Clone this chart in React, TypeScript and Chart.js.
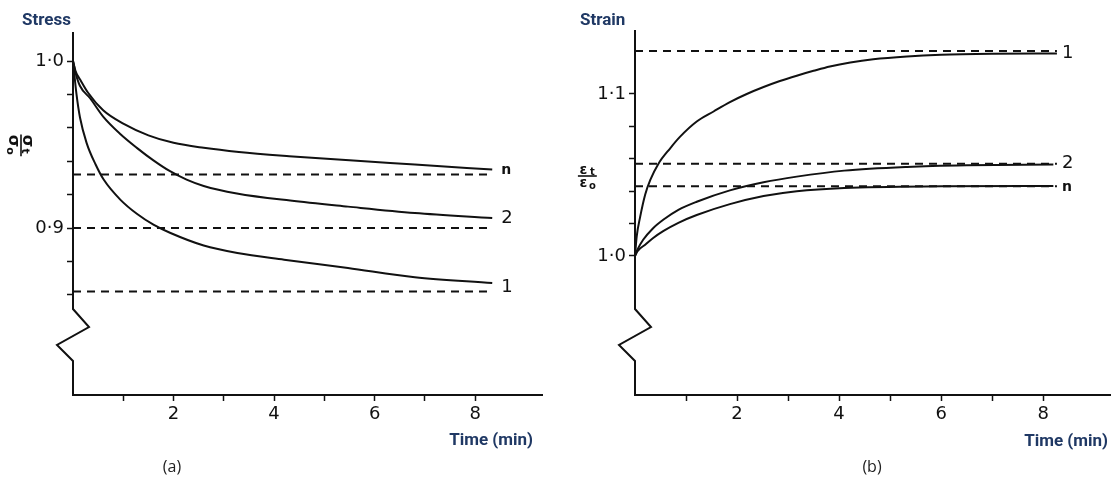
import React, { useEffect, useRef } from "react";
import { Chart, registerables } from "chart.js";
Chart.register(...registerables);

// ---------- Data: (a) Stress relaxation ----------
const stressTimeN = [0, 0.05, 0.15, 0.3, 0.6, 1.0, 1.5, 2.0, 2.6, 3.3, 4.3, 5.5, 6.8, 8.34];
const stressN = [1.0, 0.994, 0.9885, 0.981, 0.9705, 0.9625, 0.9555, 0.951, 0.948, 0.9455, 0.943, 0.9405, 0.938, 0.935];
const stressTime2 = [0, 0.05, 0.14, 0.34, 0.6, 0.94, 1.27, 1.6, 1.93, 2.26, 2.6, 3.26, 4.32, 5.47, 6.8, 8.34];
const stress2 = [1.0, 0.993, 0.985, 0.9777, 0.9667, 0.9563, 0.948, 0.9405, 0.934, 0.929, 0.9252, 0.9207, 0.9164, 0.9128, 0.909, 0.906];
const stressTime1 = [0, 0.07, 0.14, 0.27, 0.45, 0.61, 0.94, 1.27, 1.6, 1.94, 2.6, 3.27, 4.2, 5.47, 6.8, 8.34];
const stress1 = [1.0, 0.98, 0.966, 0.951, 0.938, 0.929, 0.917, 0.9085, 0.902, 0.897, 0.8895, 0.885, 0.881, 0.876, 0.8705, 0.867];
const stressAsymptotes = [0.932, 0.9, 0.862];
const stressCurveLabels = ["n", "2", "1"];
const stressYTicks = [0.86, 0.88, 0.9, 0.92, 0.94, 0.96, 0.98, 1.0];

// ---------- Data: (b) Creep strain ----------
const strainTime1 = [0, 0.033, 0.1, 0.2, 0.3, 0.46, 0.69, 0.88, 1.21, 1.54, 1.86, 2.19, 2.52, 2.84, 3.17, 3.5, 3.82, 4.22, 4.67, 5.33, 6.0, 7.0, 8.27];
const strain1 = [1.0, 1.012, 1.024, 1.038, 1.047, 1.057, 1.0665, 1.0735, 1.083, 1.0892, 1.095, 1.1, 1.1043, 1.108, 1.1113, 1.1143, 1.117, 1.1195, 1.1215, 1.1232, 1.1242, 1.1248, 1.125];
const strainTime2 = [0, 0.05, 0.16, 0.35, 0.56, 0.85, 1.21, 1.86, 2.52, 3.17, 4.1, 5.33, 6.5, 8.2];
const strain2 = [1.0, 1.004, 1.01, 1.017, 1.0225, 1.0285, 1.0335, 1.0405, 1.0455, 1.049, 1.0527, 1.055, 1.056, 1.0565];
const strainTimeN = [0, 0.05, 0.2, 0.35, 0.56, 0.85, 1.21, 1.86, 2.52, 3.17, 4.1, 6.0, 8.2];
const strainN = [1.0, 1.003, 1.007, 1.011, 1.0155, 1.0205, 1.0253, 1.032, 1.037, 1.04, 1.042, 1.043, 1.0432];
const strainAsymptotes = [1.1265, 1.057, 1.043];
const strainCurveLabels = ["1", "2", "n"];
const strainYTicks = [1.0, 1.02, 1.04, 1.06, 1.08, 1.1];

const timeTicks = [1, 2, 3, 4, 5, 6, 7, 8];

const INK = "#111";
const NAVY = "#1f3864";

const pts = (t: number[], v: number[]) => t.map((x, i) => ({ x, y: v[i] }));

const decorPlugin = {
  id: "decor",
  afterDraw(chart: any, _args: any, opts: any) {
    const { ctx, chartArea } = chart;
    const { left, top, bottom } = chartArea;
    const xs = chart.scales.x;
    const ys = chart.scales.y;
    ctx.save();
    // y axis with break
    ctx.strokeStyle = INK;
    ctx.lineWidth = 2;
    ctx.lineJoin = "miter";
    ctx.beginPath();
    ctx.moveTo(left, top);
    ctx.lineTo(left, bottom - 86);
    ctx.lineTo(left + 16, bottom - 68);
    ctx.lineTo(left - 16, bottom - 50);
    ctx.lineTo(left, bottom - 34);
    ctx.lineTo(left, bottom + 1);
    ctx.stroke();

    // curve labels
    ctx.fillStyle = INK;
    ctx.textBaseline = "middle";
    ctx.textAlign = "left";
    (opts.curveLabels || []).forEach((l: any) => {
      ctx.font = l.font;
      ctx.fillText(l.text, xs.getPixelForValue(l.x), ys.getPixelForValue(l.y) + (l.dy || 0));
    });

    // free texts
    (opts.texts || []).forEach((t: any) => {
      ctx.font = t.font;
      ctx.fillStyle = t.color;
      ctx.textAlign = t.align;
      ctx.textBaseline = "alphabetic";
      ctx.fillText(t.text, t.x, t.y);
    });

    // fraction label
    const f = opts.frac;
    if (f) {
      ctx.translate(f.x, f.y);
      if (f.rotate) ctx.rotate(Math.PI / 2);
      ctx.fillStyle = INK;
      ctx.strokeStyle = INK;
      ctx.textAlign = "center";
      ctx.textBaseline = "alphabetic";
      const s = f.size;
      const sub = Math.round(s * 0.68);
      ctx.font = `bold ${s}px 'DejaVu Sans'`;
      ctx.fillText(f.sym, -s * 0.25, -2);
      ctx.fillText(f.sym, -s * 0.25, s * 0.62 + 2);
      ctx.font = `bold ${sub}px 'DejaVu Sans'`;
      ctx.fillText(f.top, s * 0.38, -1);
      ctx.fillText(f.bot, s * 0.38, s * 0.62 + 4);
      ctx.lineWidth = 1.6;
      ctx.beginPath();
      ctx.moveTo(-s * 0.65, 0);
      ctx.lineTo(s * 0.7, 0);
      ctx.stroke();
    }
    ctx.restore();
  },
};

function makeChart(canvas: HTMLCanvasElement, spec: any) {
  const solid = spec.curves.map((c: any) => ({
    data: c,
    borderColor: INK,
    borderWidth: 2,
    pointRadius: 0,
    fill: false,
    cubicInterpolationMode: "monotone",
  }));
  const dashed = spec.asymptotes.map((v: number) => ({
    data: [
      { x: 0, y: v },
      { x: spec.dashEnd, y: v },
    ],
    borderColor: INK,
    borderWidth: 2,
    borderDash: [8, 6],
    pointRadius: 0,
    fill: false,
  }));
  return new Chart(canvas, {
    type: "line",
    data: { datasets: [...dashed, ...solid] },
    plugins: [decorPlugin],
    options: {
      responsive: false,
      animation: false,
      events: [],
      layout: { padding: { left: 0, top: spec.padTop, right: spec.padRight, bottom: 0 } },
      plugins: {
        legend: { display: false },
        tooltip: { enabled: false },
        decor: {
          curveLabels: spec.curveLabels,
          texts: spec.texts,
          frac: spec.frac,
        },
      } as any,
      scales: {
        x: {
          type: "linear",
          min: 0,
          max: spec.xMax,
          afterFit: (s: any) => {
            s.height = 89;
          },
          afterBuildTicks: (s: any) => {
            s.ticks = timeTicks.map((v) => ({ value: v }));
          },
          border: { display: true, color: INK, width: 2 },
          grid: { drawOnChartArea: false, drawTicks: true, tickLength: 6, tickWidth: 1.5, color: INK },
          ticks: {
            autoSkip: false,
            maxRotation: 0,
            padding: 3,
            color: INK,
            font: { family: "'DejaVu Sans'", size: 18 },
            callback: (v: any) => (Number(v) % 2 === 0 ? String(v) : ""),
          },
        },
        y: {
          type: "linear",
          min: spec.yMin,
          max: spec.yMax,
          afterFit: (s: any) => {
            s.width = spec.yWidth;
          },
          afterBuildTicks: (s: any) => {
            s.ticks = spec.yTicks.map((v: number) => ({ value: v }));
          },
          border: { display: false },
          grid: { drawOnChartArea: false, drawTicks: true, tickLength: 6, tickWidth: 1.5, color: INK },
          ticks: {
            autoSkip: false,
            padding: 3,
            color: INK,
            font: { family: "'DejaVu Sans'", size: 18 },
            callback: (v: any) => {
              const n = Number(v);
              const hit = spec.yLabels.find((l: any) => Math.abs(l.v - n) < 1e-6);
              return hit ? hit.t : "";
            },
          },
        },
      },
    } as any,
  });
}

export default function App() {
  const leftRef = useRef<HTMLCanvasElement>(null);
  const rightRef = useRef<HTMLCanvasElement>(null);

  useEffect(() => {
    const titleFont = "bold 17px Roboto";
    const capFont = "16px 'Open Sans'";
    const left = makeChart(leftRef.current!, {
      yMin: 0.8,
      yMax: 1.01737,
      yTicks: stressYTicks,
      yLabels: [
        { v: 1.0, t: "1·0" },
        { v: 0.9, t: "0·9" },
      ],
      yWidth: 73,
      xMax: 9.33,
      padTop: 32,
      padRight: 15,
      dashEnd: 8.3,
      curves: [pts(stressTimeN, stressN), pts(stressTime2, stress2), pts(stressTime1, stress1)],
      asymptotes: stressAsymptotes,
      curveLabels: [
        { text: stressCurveLabels[0], x: 8.52, y: stressN[stressN.length - 1], font: "bold 14px 'DejaVu Sans'", dy: 1 },
        { text: stressCurveLabels[1], x: 8.52, y: stress2[stress2.length - 1], font: "18px 'DejaVu Sans'" },
        { text: stressCurveLabels[2], x: 8.52, y: stress1[stress1.length - 1], font: "18px 'DejaVu Sans'", dy: 4 },
      ],
      texts: [
        { text: "Stress", x: 22, y: 25, align: "left", font: titleFont, color: NAVY },
        { text: "Time (min)", x: 533, y: 445, align: "right", font: titleFont, color: NAVY },
        { text: "(a)", x: 172, y: 472, align: "center", font: capFont, color: "#222" },
      ],
      frac: { x: 21, y: 145, rotate: true, sym: "σ", top: "t", bot: "o", size: 16 },
    });
    const right = makeChart(rightRef.current!, {
      yMin: 0.9142,
      yMax: 1.1395,
      yTicks: strainYTicks,
      yLabels: [
        { v: 1.0, t: "1·0" },
        { v: 1.1, t: "1·1" },
      ],
      yWidth: 78,
      xMax: 9.31,
      padTop: 30,
      padRight: 4,
      dashEnd: 8.27,
      curves: [pts(strainTime1, strain1), pts(strainTime2, strain2), pts(strainTimeN, strainN)],
      asymptotes: strainAsymptotes,
      curveLabels: [
        { text: strainCurveLabels[0], x: 8.37, y: strain1[strain1.length - 1], font: "18px 'DejaVu Sans'" },
        { text: strainCurveLabels[1], x: 8.37, y: strain2[strain2.length - 1], font: "18px 'DejaVu Sans'", dy: -1 },
        { text: strainCurveLabels[2], x: 8.37, y: strainN[strainN.length - 1], font: "bold 14px 'DejaVu Sans'", dy: 1 },
      ],
      texts: [
        { text: "Strain", x: 23, y: 25, align: "left", font: titleFont, color: NAVY },
        { text: "Time (min)", x: 551, y: 446, align: "right", font: titleFont, color: NAVY },
        { text: "(b)", x: 315, y: 472, align: "center", font: capFont, color: "#222" },
      ],
      frac: { x: 30, y: 176, rotate: false, sym: "ε", top: "t", bot: "o", size: 14 },
    });
    return () => {
      left.destroy();
      right.destroy();
    };
  }, []);

  return (
    <div style={{ position: "fixed", left: 0, top: 0, width: 1114, height: 484, background: "#fff" }}>
      <canvas ref={leftRef} width={557} height={484} style={{ position: "absolute", left: 0, top: 0 }} />
      <canvas ref={rightRef} width={557} height={484} style={{ position: "absolute", left: 557, top: 0 }} />
    </div>
  );
}
